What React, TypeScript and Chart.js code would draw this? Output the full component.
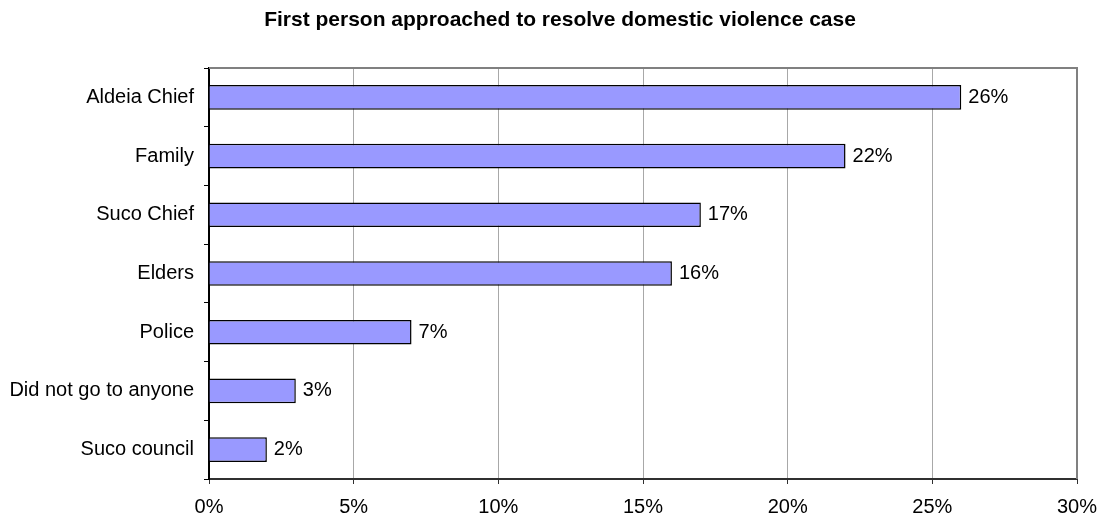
import React, { useEffect, useRef } from "react";
import { Chart, registerables } from "chart.js";

Chart.register(...registerables);

const titleText = "First person approached to resolve domestic violence case";
const categories = [
  "Aldeia Chief",
  "Family",
  "Suco Chief",
  "Elders",
  "Police",
  "Did not go to anyone",
  "Suco council",
];
const values = [26, 22, 17, 16, 7, 3, 2];
const xTicks = [0, 5, 10, 15, 20, 25, 30];

const FONT = "'Liberation Sans', Arial, sans-serif";

export default function App() {
  const ref = useRef<HTMLCanvasElement | null>(null);

  useEffect(() => {
    if (!ref.current) return;
    const titlePlugin = {
      id: "titleDraw",
      afterDraw(chart: any) {
        const ctx = chart.ctx;
        ctx.save();
        ctx.font = `bold 21px ${FONT}`;
        ctx.fillStyle = "#000";
        ctx.textAlign = "center";
        ctx.textBaseline = "alphabetic";
        ctx.fillText(titleText, 560, 26);
        ctx.restore();
      },
    };
    const framePlugin = {
      id: "frame",
      beforeDatasetsDraw(chart: any) {
        const { ctx, chartArea } = chart;
        ctx.save();
        ctx.strokeStyle = "#808080";
        ctx.lineWidth = 2;
        ctx.beginPath();
        ctx.moveTo(chartArea.left, chartArea.top);
        ctx.lineTo(chartArea.right, chartArea.top);
        ctx.lineTo(chartArea.right, chartArea.bottom);
        ctx.stroke();
        ctx.restore();
      },
    };
    const labelPlugin = {
      id: "valueLabels",
      afterDatasetsDraw(chart: any) {
        const ctx = chart.ctx;
        const meta = chart.getDatasetMeta(0);
        ctx.save();
        ctx.font = `20px ${FONT}`;
        ctx.fillStyle = "#000";
        ctx.textAlign = "left";
        ctx.textBaseline = "middle";
        meta.data.forEach((el: any, i: number) => {
          ctx.fillText(values[i] + "%", el.x + 7, el.y);
        });
        ctx.restore();
      },
    };
    const chart = new Chart(ref.current, {
      type: "bar",
      data: {
        labels: categories,
        datasets: [
          {
            data: values,
            backgroundColor: "#9999FF",
            borderColor: "#000000",
            borderWidth: 1.5,
            categoryPercentage: 1,
            barPercentage: 0.42,
          },
        ],
      },
      options: {
        indexAxis: "y",
        animation: false,
        responsive: false,
        maintainAspectRatio: false,
        layout: { padding: { left: 0, right: 25, top: 68, bottom: 0 } },
        plugins: {
          legend: { display: false },
          tooltip: { enabled: false },
          title: { display: false },
        },
        scales: {
          x: {
            min: 0,
            max: 30,
            afterBuildTicks(scale: any) {
              scale.ticks = xTicks.map((v) => ({ value: v }));
            },
            afterFit(scale: any) {
              scale.height = 41;
              scale.paddingLeft = 0;
              scale.paddingRight = 0;
            },
            ticks: {
              font: { family: FONT, size: 20 },
              color: "#000",
              padding: 11,
              callback: (v: any) => v + "%",
            },
            grid: {
              color: "#a8a8a8",
              tickColor: "#303030",
              tickLength: 5,
              lineWidth: 1,
            },
            border: { color: "#303030", width: 2 },
          },
          y: {
            afterFit(scale: any) {
              scale.width = 209;
              scale.paddingTop = 0;
              scale.paddingBottom = 0;
            },
            ticks: {
              font: { family: FONT, size: 20 },
              color: "#000",
              padding: 10,
            },
            grid: {
              drawOnChartArea: false,
              tickColor: "#000",
              tickLength: 5,
              offset: true,
            },
            border: { color: "#000", width: 2 },
          },
        },
      },
      plugins: [framePlugin, labelPlugin, titlePlugin],
    });
    return () => chart.destroy();
  }, []);

  return (
    <div style={{ position: "fixed", left: 0, top: 0, width: 1102, height: 520, background: "#fff" }}>
      <canvas ref={ref} width={1102} height={520} style={{ width: 1102, height: 520 }} />
    </div>
  );
}
